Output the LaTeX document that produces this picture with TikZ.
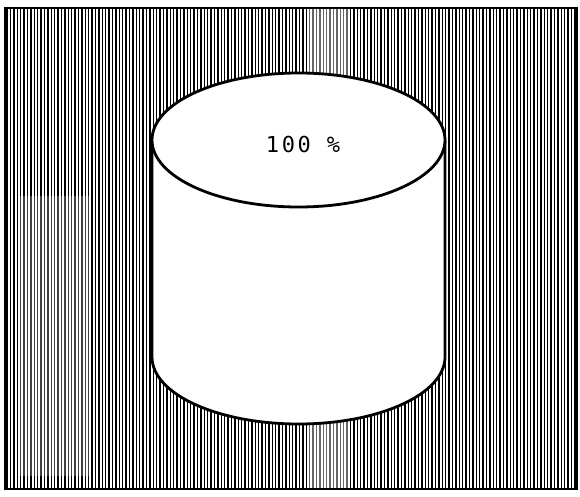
\documentclass[tikz,border=0pt]{standalone}
\usepackage{fontspec}
\newfontfamily\plotfont[LetterSpace=12]{DejaVu Sans Mono}
\begin{document}
\begin{tikzpicture}[x=1pt,y=1pt,
  hatch/.style={line width=1.4pt,black},
  outline/.style={line width=2.8pt,black},
  framebox/.style={line width=2.4pt,black}]
\useasboundingbox (0,0) rectangle (580,496);
% hatched background
\fill[white] (5,7) rectangle (577,488);
\foreach \x in {7,10.4,...,576} \draw[hatch] (\x,7) -- (\x,488);
% lighter bands
\fill[white,opacity=0.4] (308,7) rectangle (348,488);
\fill[white,opacity=0.25] (20,20) rectangle (90,300);
% frame
\draw[framebox] (5,7) rectangle (577,488);
% cylinder body
\fill[white] (152,356) -- (152,139) arc[start angle=180,end angle=360,x radius=146.5,y radius=67] -- (445,356) arc[start angle=0,end angle=180,x radius=146.5,y radius=67] -- cycle;
\draw[outline,line join=round] (152,356) -- (152,139) arc[start angle=180,end angle=360,x radius=146.5,y radius=67] -- (445,356);
% top ellipse
\draw[outline,fill=white] (298.5,356) ellipse[x radius=146.5,y radius=67];
\node[font=\plotfont\fontsize{22}{22}\selectfont] (label) at (303,352) {100 \%};
\end{tikzpicture}
\end{document}
